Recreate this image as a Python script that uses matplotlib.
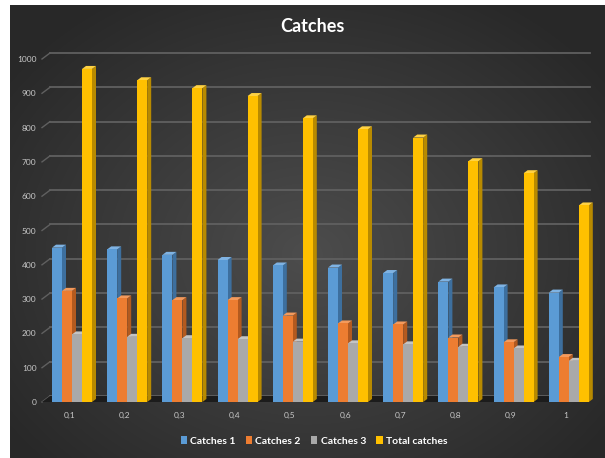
import numpy as np
import matplotlib
matplotlib.use("Agg")
import matplotlib.pyplot as plt
from matplotlib.patches import Polygon, Rectangle

# --- data ---
categories = ["0,1", "0,2", "0,3", "0,4", "0,5", "0,6", "0,7", "0,8", "0,9", "1"]
catches_1 = [450, 445, 429, 414, 398, 392, 376, 351, 334, 319]
catches_2 = [324, 302, 297, 297, 252, 229, 226, 188, 174, 131]
catches_3 = [197, 190, 186, 183, 176, 171, 168, 161, 156, 120]
total_catches = [971, 938, 915, 892, 827, 795, 771, 702, 667, 573]
series_names = ["Catches 1", "Catches 2", "Catches 3", "Total catches"]
y_ticks = [0, 100, 200, 300, 400, 500, 600, 700, 800, 900, 1000]

colors = ["#5b9bd5", "#ed7d31", "#a9a9a9", "#ffc000"]
side_colors = ["#3d6f9e", "#b35a1f", "#7a7a7a", "#b88a00"]
top_colors = ["#7fb3e3", "#f49a5c", "#c4c4c4", "#ffd243"]

W, H = 605, 458
fig = plt.figure(figsize=(W / 100, H / 100), dpi=100)
fig.patch.set_facecolor("white")

# background: radial dark gradient
bg = fig.add_axes([10 / W, 0, (W - 10) / W, (H - 5) / H])
yy, xx = np.mgrid[0:1:200j, 0:1:260j]
r = np.sqrt(((xx - 0.5) / 0.75) ** 2 + ((yy - 0.55) / 0.8) ** 2)
shade = np.clip(0.30 - 0.17 * r, 0.16, 0.30)
bg.imshow(np.dstack([shade] * 3), aspect="auto", extent=[0, 1, 0, 1], interpolation="bilinear")
bg.set_axis_off()

# plotting area in pixels
ax_l, ax_r = 42, 590
y0_px, y1000_px = 402, 59
c0_px, step_px = 72, 55.2
ax = fig.add_axes([ax_l / W, (H - y0_px) / H, (ax_r - ax_l) / W, (y0_px - y1000_px) / H])
ax.set_facecolor("none")
x0 = -(c0_px - ax_l) / step_px
x1 = (ax_r - c0_px) / step_px
ax.set_xlim(x0, x1)
ax.set_ylim(0, 1000)
for s in ax.spines.values():
    s.set_visible(False)

px_x = 1 / step_px                      # one pixel in x data units
px_y = 1000 / (y0_px - y1000_px)        # one pixel in y data units

# back wall gridlines with a small depth offset
gdx, gdy = 8 * px_x, 6 * px_y
for v in y_ticks:
    ax.plot([x0 + gdx, x1], [v + gdy, v + gdy], color="#606060", lw=1.3, zorder=1, clip_on=False)
    ax.plot([x0, x0 + gdx], [v, v + gdy], color="#606060", lw=1.0, zorder=1, clip_on=False)

# floor
ax.add_patch(Polygon([(x0, 0), (x1 - gdx, 0), (x1, gdy), (x0 + gdx, gdy)],
                     closed=True, facecolor="#1c1c1c", edgecolor="none", zorder=2, clip_on=False))

# 3D-looking bars
series = [catches_1, catches_2, catches_3, total_catches]
bw = 10 * px_x
dx, dy = 4 * px_x, 3 * px_y
x = np.arange(len(categories))
for i in range(len(categories)):
    for k, vals in enumerate(series):
        left = x[i] - 2 * bw + k * bw
        h = vals[i]
        z = 3 + i * 0.1 + k * 0.01
        ax.add_patch(Polygon([(left + bw, 0), (left + bw + dx, dy), (left + bw + dx, h + dy), (left + bw, h)],
                             closed=True, facecolor=side_colors[k], edgecolor="none", zorder=z, clip_on=False))
        ax.add_patch(Polygon([(left, h), (left + bw, h), (left + bw + dx, h + dy), (left + dx, h + dy)],
                             closed=True, facecolor=top_colors[k], edgecolor="none", zorder=z, clip_on=False))
        ax.bar(left, h, width=bw, align="edge", color=colors[k], edgecolor="none", zorder=z + 0.005)

ax.set_xticks(x - 0.05)
ax.set_xticklabels(categories)
ax.set_yticks(y_ticks)
ax.tick_params(axis="both", length=0, colors="#c8c8c8", labelsize=6)
ax.tick_params(axis="x", pad=7)
ax.tick_params(axis="y", pad=4)
for lab in ax.get_xticklabels() + ax.get_yticklabels():
    lab.set_family("Lato")

fig.text(312 / W, 1 - 27 / H, "Catches", ha="center", va="center", color="white",
         fontsize=13, fontweight="bold", family="Lato")

handles = [Rectangle((0, 0), 1, 1, facecolor=c, edgecolor="none") for c in colors]
leg = fig.legend(handles, series_names, loc="center", bbox_to_anchor=(314 / W, 1 - 441 / H),
                 ncol=4, frameon=False, handlelength=0.6, handleheight=0.7,
                 handletextpad=0.3, columnspacing=1.0, prop={"family": "Lato", "weight": "bold", "size": 7.5})
for t in leg.get_texts():
    t.set_color("white")

fig.savefig("out.png", dpi=100, facecolor="white")
